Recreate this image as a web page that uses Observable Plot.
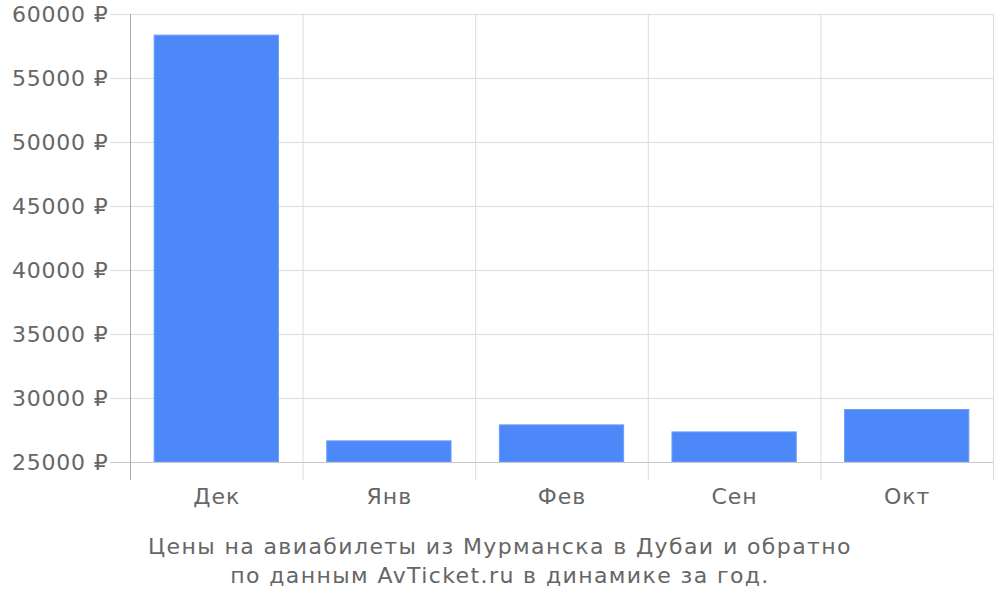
<!DOCTYPE html>
<html>
<head>
<meta charset="utf-8">
<script src="https://cdn.jsdelivr.net/npm/d3@7"></script>
<script src="https://cdn.jsdelivr.net/npm/@observablehq/plot@0.6"></script>
<style>
  html, body { margin: 0; padding: 0; background: #fff; }
  body { width: 1000px; height: 600px; overflow: hidden; font-family: "DejaVu Sans", sans-serif; }
  #caption { text-align: center; color: #666; font-size: 22px; line-height: 29px; margin-top: 17px; letter-spacing: 1.4px; }
  svg { display: block; }
  svg g[aria-label="y-axis tick label"] text { letter-spacing: 0.8px; }
  svg g[aria-label="x-axis tick label"] text { letter-spacing: 1px; }
</style>
</head>
<body>
<div id="chart"></div>
<div id="caption">Цены на авиабилеты из Мурманска в Дубаи и обратно<br>по данным AvTicket.ru в динамике за год.</div>
<script>
const months = ["Дек", "Янв", "Фев", "Сен", "Окт"];
const prices = [58350, 26650, 27900, 27350, 29100];
const yTicks = [25000, 30000, 35000, 40000, 45000, 50000, 55000, 60000];

const data = months.map((m, i) => ({month: m, price: prices[i]}));

const W = 1000, H = 515, ML = 130, MR = 7, MT = 14, MB = 53;
const step = (W - ML - MR) / months.length;

const chart = Plot.plot({
  width: W,
  height: H,
  marginLeft: ML,
  marginRight: MR,
  marginTop: MT,
  marginBottom: MB,
  style: {fontFamily: "DejaVu Sans, sans-serif", fontSize: "22px", color: "#666", background: "#fff"},
  x: {domain: months, paddingInner: 0.28, paddingOuter: 0.14, round: false, label: null},
  y: {domain: [25000, 60000], label: null},
  marks: [
    Plot.ruleY(yTicks, {stroke: "#dcdcdc", strokeWidth: 1, insetLeft: -20}),
    Plot.ruleX(months.slice(1), {x: d => d, dx: -step / 2, stroke: "#dcdcdc", insetBottom: -18}),
    Plot.ruleX(months.slice(-1), {x: d => d, dx: step / 2, stroke: "#dcdcdc", insetBottom: -18}),
    Plot.barY(data, {x: "month", y1: 25000, y2: "price", fill: "#4d88f9", stroke: "#6a9cfa", strokeWidth: 1}),
    Plot.ruleY([25000], {stroke: "#c8c8c8", insetLeft: -20}),
    Plot.ruleX(months.slice(0, 1), {x: d => d, dx: -step / 2, stroke: "#aaa", insetBottom: -18}),
    Plot.axisY({ticks: yTicks, tickSize: 0, tickPadding: 22, tickFormat: d => d + " ₽", fill: "#666", label: null}),
    Plot.axisX({tickSize: 0, tickPadding: 26, fill: "#666", label: null})
  ]
});
document.getElementById("chart").appendChild(chart);
</script>
</body>
</html>
